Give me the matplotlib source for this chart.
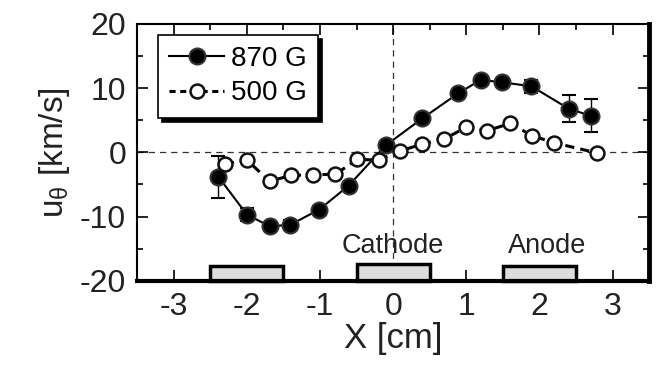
import matplotlib
matplotlib.use("Agg")
import matplotlib.pyplot as plt
from matplotlib.patches import Rectangle
from matplotlib.lines import Line2D

plt.rcParams['font.family'] = ['Liberation Sans', 'DejaVu Sans']
plt.rcParams['mathtext.fontset'] = 'custom'
plt.rcParams['mathtext.rm'] = 'Liberation Sans'
plt.rcParams['mathtext.it'] = 'Liberation Sans'
plt.rcParams['axes.unicode_minus'] = False

# 870 G (filled)
x_870 = [-2.39, -2.0, -1.69, -1.41, -1.01, -0.61, -0.10, 0.40, 0.89, 1.20, 1.49, 1.89, 2.40, 2.70]
u_870 = [-3.8, -9.7, -11.5, -11.3, -8.9, -5.2, 1.1, 5.3, 9.2, 11.3, 10.9, 10.3, 6.8, 5.7]
err_870 = [3.3, 1.0, 0.5, 0.8, 0.5, 0.5, 0.5, 0.5, 0.5, 0.5, 0.5, 1.0, 2.1, 2.6]

# 500 G (open)
x_500 = [-2.30, -2.0, -1.69, -1.40, -1.10, -0.79, -0.49, -0.20, 0.09, 0.40, 0.70, 1.0, 1.29, 1.60, 1.90, 2.20, 2.79]
u_500 = [-1.8, -1.2, -4.5, -3.6, -3.5, -3.4, -1.1, -1.2, 0.2, 1.3, 2.1, 3.9, 3.4, 4.5, 2.6, 1.5, -0.1]

# electrodes
elec_x = [-2.0, 0.0, 2.0]
elec_top = [-17.7, -17.4, -17.7]
elec_labels = ['', 'Cathode', 'Anode']

fig = plt.figure(figsize=(6.63, 3.68), dpi=100)
ax = fig.add_axes([0.207, 0.237, 0.772, 0.698])

ax.axhline(0, color='#333333', lw=0.9, ls=(0, (5, 4)), zorder=1)
ax.axvline(0, color='#333333', lw=0.9, ls=(0, (5, 4)), zorder=1)

ax.errorbar(x_870, u_870, yerr=err_870, fmt='-o', color='black', lw=1.5,
            ms=11.5, mfc='black', mec='#333333', mew=1.5,
            ecolor='black', elinewidth=1.0, capsize=5, capthick=1.0, zorder=3)
ax.plot(x_500, u_500, ls=(0, (3, 2)), color='black', lw=2.2, marker='o',
        ms=10, mfc='white', mec='#111111', mew=1.8, zorder=4)

for xc, top, lab in zip(elec_x, elec_top, elec_labels):
    ax.add_patch(Rectangle((xc - 0.5, -20), 1.0, top + 20, facecolor='#dcdcdc',
                           edgecolor='black', lw=2.5, zorder=2, clip_on=False))
    if lab:
        ax.text(xc + (0.1 if lab == 'Anode' else 0), -14.6, lab, ha='center', va='center',
                fontsize=19.5, color='#222222')

ax.set_xlim(-3.5, 3.5)
ax.set_ylim(-20, 20)
ax.set_xticks([-3, -2, -1, 0, 1, 2, 3])
ax.set_xticks([-2.5, -1.5, -0.5, 0.5, 1.5, 2.5], minor=True)
ax.set_yticks([-20, -10, 0, 10, 20])
ax.set_yticks([-15, -5, 5, 15], minor=True)
ax.tick_params(which='both', direction='in', top=True, right=True, labelsize=23,
               colors='black', labelcolor='#222222')
ax.tick_params(which='major', length=8, width=1.2, pad=8)
ax.tick_params(which='minor', length=4, width=1.2)

ax.spines['left'].set_linewidth(1.5)
ax.spines['top'].set_linewidth(1.5)
ax.spines['right'].set_linewidth(3.5)
ax.spines['bottom'].set_linewidth(3.0)

ax.set_xlabel('X [cm]', fontsize=25, color='#222222', labelpad=0)
ax.set_ylabel(r'u$_\theta$ [km/s]', fontsize=24, color='#222222', labelpad=6)

handles = [
    Line2D([], [], color='black', lw=1.5, marker='o', ms=11.5, mfc='black', mec='#333333', mew=1.5),
    Line2D([], [], color='black', lw=2.2, ls=(0, (2, 1.5)), marker='o', ms=10, mfc='white',
           mec='#111111', mew=1.8),
]
leg = ax.legend(handles, ['870 G', '500 G'], loc='upper left', bbox_to_anchor=(0.04, 0.957),
                borderaxespad=0, fontsize=20, frameon=True, fancybox=False, edgecolor='black',
                shadow={'color': 'black', 'alpha': 1.0, 'ox': 3, 'oy': -3},
                handlelength=2.0, handletextpad=0.25, borderpad=0.4, labelspacing=0.3)
leg.get_frame().set_linewidth(1.2)
leg.set_zorder(5)

fig.savefig('out.png', dpi=100)
